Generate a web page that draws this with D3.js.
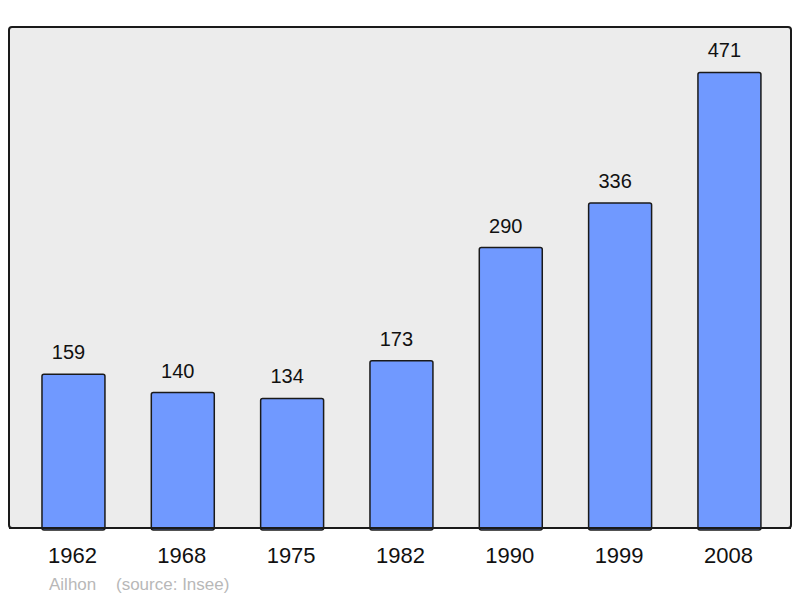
<!DOCTYPE html>
<html>
<head>
<meta charset="utf-8">
<script src="https://cdn.jsdelivr.net/npm/d3@7"></script>
<style>
  body { margin: 0; background: #fff; }
  text { font-family: "Liberation Sans", Arial, sans-serif; }
</style>
</head>
<body>
<svg id="chart" width="800" height="598"></svg>
<script>
// population data
const years  = ["1962", "1968", "1975", "1982", "1990", "1999", "2008"];
const values = [159, 140, 134, 173, 290, 336, 471];
const commune = "Ailhon";
const source  = "(source: Insee)";

const svg = d3.select("#chart");

const frame = { left: 9, top: 27, right: 791, bottom: 528 };

// ── background frame ──────────────────────────────────────────────────────────
svg.append("rect")
  .attr("x", frame.left).attr("y", frame.top)
  .attr("width", frame.right - frame.left).attr("height", frame.bottom - frame.top)
  .attr("rx", 3)
  .style("fill", "#ececec")
  .style("stroke", "#1a1a1a")
  .style("stroke-width", 2);

// ── scales ───────────────────────────────────────────────────────────────────
const x = d3.scaleBand()
  .domain(years)
  .range([18.8, 784.1])
  .paddingInner(0.424)
  .paddingOuter(0.212);

const y = d3.scaleLinear()
  .domain([0, 518])
  .range([frame.bottom, frame.top]);

const data = years.map((yr, i) => ({ year: yr, value: values[i] }));

// ── bars ─────────────────────────────────────────────────────────────────────
svg.selectAll(".bar").data(data).enter().append("rect")
  .attr("class", "bar")
  .attr("x", d => x(d.year))
  .attr("y", d => y(d.value))
  .attr("width", x.bandwidth())
  .attr("height", d => frame.bottom - y(d.value) + 2)
  .attr("rx", 2)
  .style("fill", "#7099ff")
  .style("stroke", "#1a1a1a")
  .style("stroke-width", 1.5);

// redraw bottom edge of the frame over the bars
svg.append("line")
  .attr("x1", frame.left).attr("x2", frame.right)
  .attr("y1", frame.bottom).attr("y2", frame.bottom)
  .style("stroke", "#1a1a1a").style("stroke-width", 2);

// ── value labels (sit a little left of the bar centre, as in the original) ──
svg.selectAll(".val").data(data).enter().append("text")
  .attr("class", "val")
  .attr("x", d => x(d.year) + x.bandwidth() / 2 - 5)
  .attr("y", d => y(d.value) - 15)
  .attr("text-anchor", "middle")
  .style("font-size", "20px")
  .style("fill", "#111")
  .text(d => d.value);

// ── year axis ────────────────────────────────────────────────────────────────
const axis = svg.append("g")
  .attr("transform", `translate(0,${frame.bottom})`)
  .call(d3.axisBottom(x).tickSize(0).tickPadding(19));
axis.select(".domain").remove();
axis.selectAll("text")
  .attr("dx", -1)
  .style("font-size", "22px")
  .style("fill", "#111")
  .style("font-family", "'Liberation Sans', Arial, sans-serif");

// ── footer ───────────────────────────────────────────────────────────────────
svg.append("text")
  .attr("x", 49).attr("y", 590)
  .style("font-size", "17px")
  .style("fill", "#b8b8b8")
  .text(commune);
svg.append("text")
  .attr("x", 116).attr("y", 590)
  .style("font-size", "17px")
  .style("fill", "#b8b8b8")
  .text(source);
</script>
</body>
</html>
